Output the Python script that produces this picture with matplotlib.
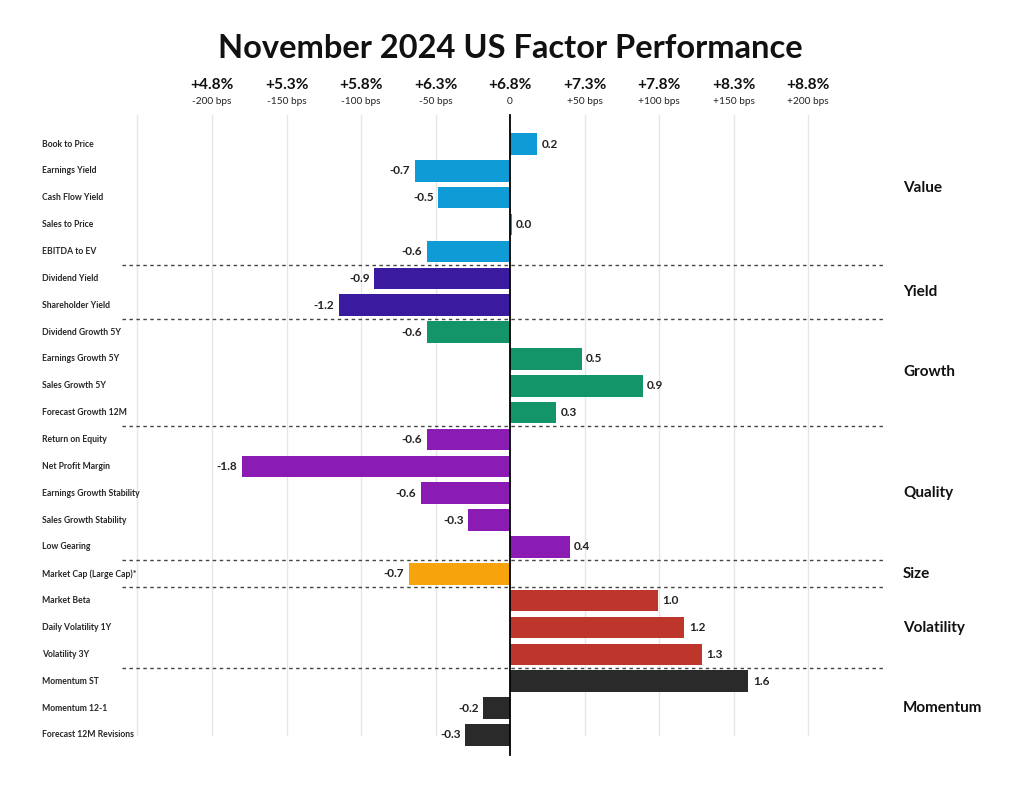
import numpy as np
import matplotlib
matplotlib.use("Agg")
import matplotlib.pyplot as plt
import matplotlib.transforms as mtransforms

plt.rcParams['font.family'] = ['Lato', 'DejaVu Sans']

factors = ['Book to Price', 'Earnings Yield', 'Cash Flow Yield', 'Sales to Price', 'EBITDA to EV',
           'Dividend Yield', 'Shareholder Yield',
           'Dividend Growth 5Y', 'Earnings Growth 5Y', 'Sales Growth 5Y', 'Forecast Growth 12M',
           'Return on Equity', 'Net Profit Margin', 'Earnings Growth Stability', 'Sales Growth Stability', 'Low Gearing',
           'Market Cap (Large Cap)*',
           'Market Beta', 'Daily Volatility 1Y', 'Volatility 3Y',
           'Momentum ST', 'Momentum 12-1', 'Forecast 12M Revisions']
# bar lengths (percent points)
values = [0.18, -0.64, -0.48, 0.01, -0.56,
          -0.91, -1.15,
          -0.56, 0.48, 0.89, 0.31,
          -0.56, -1.80, -0.60, -0.28, 0.40,
          -0.68,
          0.99, 1.17, 1.29,
          1.60, -0.18, -0.30]
# printed labels
labels = ['0.2', '-0.7', '-0.5', '0.0', '-0.6',
          '-0.9', '-1.2',
          '-0.6', '0.5', '0.9', '0.3',
          '-0.6', '-1.8', '-0.6', '-0.3', '0.4',
          '-0.7',
          '1.0', '1.2', '1.3',
          '1.6', '-0.2', '-0.3']
groups = ['Value', 'Yield', 'Growth', 'Quality', 'Size', 'Volatility', 'Momentum']
group_sizes = [5, 2, 4, 5, 1, 3, 3]
group_colors = ['#0e9bd6', '#3a1ba0', '#139569', '#8b1cb3', '#f6a30c', '#be352b', '#2a2a2a']

tick_vals = [-2.0, -1.5, -1.0, -0.5, 0.0, 0.5, 1.0, 1.5, 2.0]
tick_pct = ['+4.8%', '+5.3%', '+5.8%', '+6.3%', '+6.8%', '+7.3%', '+7.8%', '+8.3%', '+8.8%']
tick_bps = ['-200 bps', '-150 bps', '-100 bps', '-50 bps', '0', '+50 bps', '+100 bps', '+150 bps', '+200 bps']
grid_vals = [-2.5, -2.0, -1.5, -1.0, -0.5, 0.5, 1.0, 1.5, 2.0]

W, H = 1024, 794
fig = plt.figure(figsize=(W / 100, H / 100), dpi=100)
ax = fig.add_axes([122 / W, 1 - 750 / H, 761 / W, 635 / H])
ax.set_xlim(-2.604, 2.503)
n = len(factors)
ax.set_ylim(22.56, -1.08)
ax.axis('off')

colors = []
for c, s in zip(group_colors, group_sizes):
    colors += [c] * s
y = np.arange(n)

for g in grid_vals:
    ax.plot([g, g], [-1.08, 22.0], color='#e6e6e6', lw=1, zorder=0)

ax.barh(y, values, height=0.8, color=colors, zorder=2)
ax.plot([0, 0], [-1.08, 22.75], color='black', lw=1.3, zorder=3, clip_on=False)

for yi, v, lab in zip(y, values, labels):
    if v >= 0:
        ax.text(v + 0.03, yi, lab, ha='left', va='center', fontsize=8.5, fontweight='bold', color='#222222')
    else:
        ax.text(v - 0.03, yi, lab, ha='right', va='center', fontsize=8.5, fontweight='bold', color='#222222')

# factor names on the left
trans_l = mtransforms.blended_transform_factory(fig.transFigure, ax.transData)
for yi, name in zip(y, factors):
    ax.text(42 / W, yi, name, transform=trans_l, ha='left', va='center', fontsize=6.2,
            fontweight='bold', color='#262626')

# group separators and names
start = 0
for gi, (gname, s) in enumerate(zip(groups, group_sizes)):
    end = start + s
    center = (start + end - 1) / 2
    if gname == 'Value':
        center = 1.65
    ax.text(903 / W, center, gname, transform=trans_l, ha='left', va='center', fontsize=11,
            fontweight='bold', color='#111111')
    if gi < len(groups) - 1:
        ax.plot([-2.604, 2.503], [end - 0.5, end - 0.5], color='#444444', lw=1,
                linestyle=(0, (2.5, 2.5)), zorder=1)
    start = end

# top axis labels
trans_t = mtransforms.blended_transform_factory(ax.transData, fig.transFigure)
for tv, tp, tb in zip(tick_vals, tick_pct, tick_bps):
    ax.text(tv, 1 - 85 / H, tp, transform=trans_t, ha='center', va='center', fontsize=11.2,
            fontweight='bold', color='#111111')
    ax.text(tv, 1 - 102 / H, tb, transform=trans_t, ha='center', va='center', fontsize=7.3,
            color='#222222')

fig.text(510 / W, 1 - 49 / H, 'November 2024 US Factor Performance', ha='center', va='center',
         fontsize=23.5, fontweight='bold', color='#111111')

fig.savefig('out.png', dpi=100)
